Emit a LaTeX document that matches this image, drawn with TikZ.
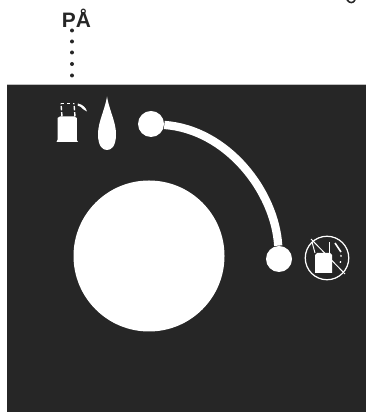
\documentclass[tikz,border=0pt]{standalone}
\usepackage{fontspec}
\setmainfont{Liberation Sans}
\definecolor{panelgray}{HTML}{262626}
\tikzset{
  knob/.style={circle,fill=white,inner sep=0pt,minimum size=0.52cm},
  dotmark/.style={fill=panelgray},
  iconline/.style={draw=white,line width=0.55pt},
}
\begin{document}
\begin{tikzpicture}[scale=1.0]
\useasboundingbox (0,0) rectangle (7.32,8.24);
\fill[panelgray] (0.15,0) rectangle (7.32,6.56);
\draw[gray!50,line width=0.4pt] (0.15,6.56) -- (7.32,6.56);
% label and dots
\node[text=panelgray,anchor=base,inner sep=0pt,font=\fontsize{11.9pt}{14pt}\bfseries] (pa) at (1.53,7.68) {PÅ};
\foreach \y in {7.63,7.41,7.19,6.96,6.73}
  \fill[dotmark] (1.44,\y) circle (0.04);
% cut off letter top right
\draw[panelgray,line width=0.9pt] (6.94,8.24) .. controls (7.0,8.17) and (7.06,8.17) .. (7.1,8.24);
% main circle and knobs
\node[circle,fill=white,inner sep=0pt,minimum size=3.02cm] (hole) at (2.98,3.12) {};
\node[knob] (knoba) at (3.02,5.76) {};
\node[knob] (knobb) at (5.58,3.06) {};
\draw[white,line width=0.165cm] (knoba) .. controls (4.55,5.65) and (5.5,4.4) .. (knobb);
% drop
\fill[white] (2.14,6.31) .. controls (2.18,6.05) and (2.32,5.8) .. (2.32,5.56)
  .. controls (2.32,5.3) and (2.22,5.24) .. (2.14,5.24)
  .. controls (2.06,5.24) and (1.96,5.3) .. (1.96,5.56)
  .. controls (1.96,5.8) and (2.10,6.05) .. (2.14,6.31) -- cycle;
% bottle
\fill[white] (1.13,5.40) -- (1.56,5.40) -- (1.535,5.44) -- (1.535,5.88) -- (1.49,5.91) -- (1.20,5.91) -- (1.15,5.88) -- (1.15,5.44) -- cycle;
\draw[white,line width=0.8pt,dash pattern=on 2.5pt off 1pt] (1.24,5.91) -- (1.22,6.17);
\draw[white,line width=0.8pt,dash pattern=on 2.5pt off 1pt] (1.50,5.91) -- (1.48,6.17);
\draw[white,line width=0.5pt,dash pattern=on 1.5pt off 2pt] (1.22,6.17) -- (1.48,6.17);
\fill[white] (1.56,6.17) .. controls (1.66,6.15) and (1.72,6.08) .. (1.74,6.01)
  -- (1.67,6.05) .. controls (1.64,6.09) and (1.6,6.12) .. (1.55,6.13) -- cycle;
% crossed bottle
\node[circle,draw=white,line width=0.7pt,inner sep=0pt,minimum size=0.87cm] (crossed) at (6.54,3.08) {};
\fill[white] (6.30,2.78) -- (6.64,2.78) -- (6.64,3.14) -- (6.60,3.18) -- (6.34,3.18) -- (6.30,3.14) -- cycle;
\coordinate (slasha) at (6.22,3.46);
\coordinate (slashb) at (6.90,2.76);
\draw[iconline] (slasha) -- (slashb);
\draw[iconline] (6.30,3.18) -- (6.24,3.40);
\draw[iconline] (6.58,3.18) -- (6.58,3.40);
\draw[white,line width=0.9pt] (6.70,3.38) -- (6.82,3.20);
\draw[white,line width=0.7pt,dash pattern=on 1pt off 2.5pt] (6.82,3.14) -- (6.80,2.9);
\end{tikzpicture}
\end{document}
